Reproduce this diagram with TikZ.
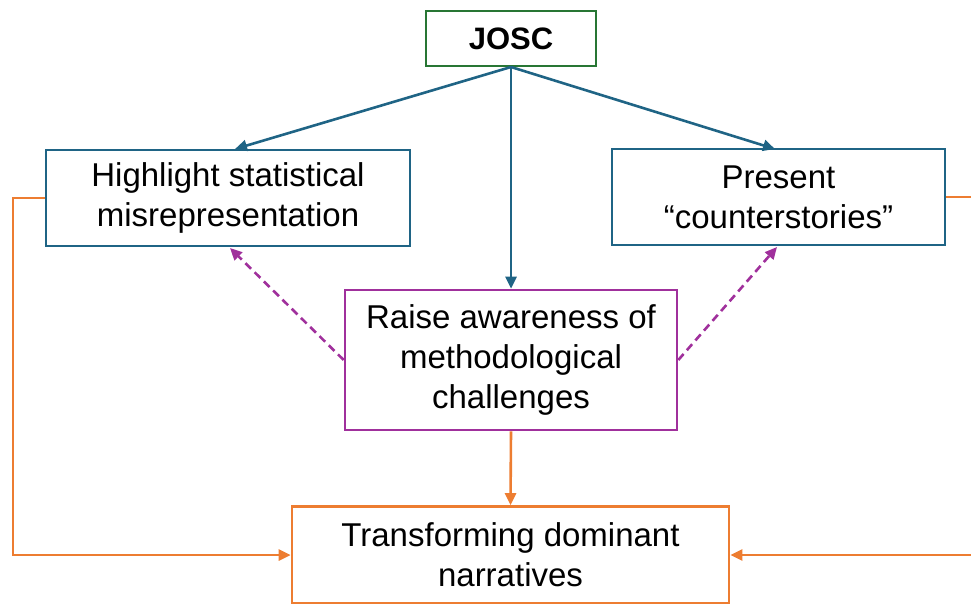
\documentclass[tikz,border=0pt]{standalone}
\usepackage{fontspec}
\setmainfont{Liberation Sans}
\usetikzlibrary{arrows.meta}
\definecolor{cblue}{RGB}{31,100,133}
\definecolor{cgreen}{RGB}{40,118,52}
\definecolor{cpurple}{RGB}{160,48,156}
\definecolor{corange}{RGB}{237,125,49}
\tikzset{
  box/.style={draw, line width=2.6pt, fill=white, inner sep=0pt, align=center,
    font=\fontsize{33}{40}\selectfont},
  conn/.style={line width=2.6pt, -{Triangle[length=12pt,width=11pt]}},
}
\begin{document}
\begin{tikzpicture}[x=1pt,y=-1pt]
\useasboundingbox (0,0) rectangle (971,604);
\node[box, draw=cgreen, minimum width=170pt, minimum height=55pt, font=\fontsize{31}{34}\selectfont\bfseries] (josc) at (511,38.5) {JOSC};
\node[box, draw=cblue, minimum width=364pt, minimum height=96pt] (hl) at (228,198) {Highlight statistical\\misrepresentation};
\node[box, draw=cblue, minimum width=333pt, minimum height=96pt] (pr) at (778.5,197) {Present\\``counterstories''};
\node[box, draw=cpurple, minimum width=332pt, minimum height=140pt] (ra) at (511,360) {Raise awareness of\\methodological\\challenges};
\node[box, draw=corange, minimum width=437pt, minimum height=97pt] (tr) at (510.5,555) {Transforming dominant\\narratives};
\coordinate (jb) at (511,67);
\draw[conn, cblue] (jb) -- (235,149);
\draw[conn, cblue] (jb) -- (775,149);
\draw[conn, cblue] (jb) -- (ra.north);
\draw[conn, cpurple, dash pattern=on 8pt off 5pt] (ra.west) -- (230,248);
\draw[conn, cpurple, dash pattern=on 8pt off 5pt] (ra.east) -- (777,247);
\draw[conn, corange] (ra.south) -- (tr.north);
\draw[conn, corange] (hl.west) -- (13,198) -- (13,555) -- (tr.west);
\draw[conn, corange] (pr.east) -- (980,197) -- (980,555) -- (tr.east);
\end{tikzpicture}
\end{document}
